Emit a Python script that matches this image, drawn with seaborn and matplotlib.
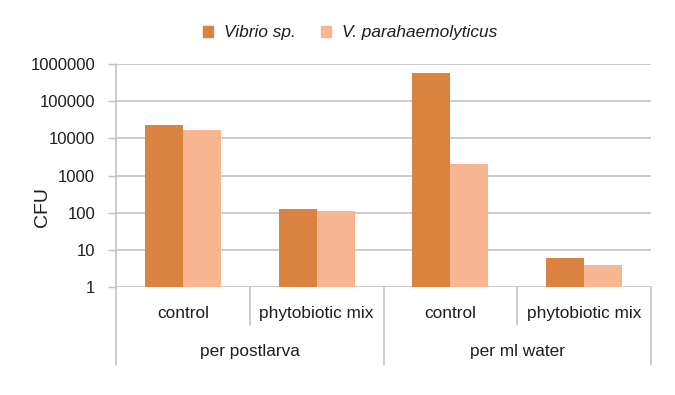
import pandas as pd
import matplotlib
matplotlib.use("Agg")
import matplotlib.pyplot as plt
import seaborn as sns

# ---------------------------------------
# Data
# ---------------------------------------
groups = ["per postlarva", "per postlarva", "per ml water", "per ml water"]
treatments = ["control", "phytobiotic mix", "control", "phytobiotic mix"]
vibrio = [23500, 125, 580000, 6]
v_para = [16500, 112, 2000, 4]
series_names = ["Vibrio sp.", "V. parahaemolyticus"]
y_ticks = [1, 10, 100, 1000, 10000, 100000, 1000000]
y_ticklabels = ["1", "10", "100", "1000", "10000", "100000", "1000000"]

colors = ["#DA823F", "#F8B592"]
grid_col = "#BFBFBF"
text_col = "#1E1E1E"

rows = []
for i in range(len(treatments)):
    key = f"{groups[i]}|{treatments[i]}"
    rows.append({"slot": key, "series": series_names[0], "CFU": vibrio[i]})
    rows.append({"slot": key, "series": series_names[1], "CFU": v_para[i]})
df = pd.DataFrame(rows)

# ---------------------------------------
# Plot
# ---------------------------------------
sns.set_style("white")
plt.rcParams["font.family"] = ["Liberation Sans", "DejaVu Sans"]

fig = plt.figure(figsize=(6.75, 3.95), dpi=100)
ax = fig.add_axes([116 / 675, 1 - 287 / 395, 535 / 675, 223 / 395])
ax.set_yscale("log")

sns.barplot(data=df, x="slot", y="CFU", hue="series", palette=colors,
            width=0.57, gap=0, saturation=1, edgecolor="none", ax=ax,
            legend=False, zorder=3)

ax.set_ylim(1, 1000000)
ax.set_xlim(-0.5, len(treatments) - 0.5)
ax.set_yticks(y_ticks)
ax.set_yticklabels(y_ticklabels)
ax.yaxis.set_minor_locator(matplotlib.ticker.NullLocator())
ax.tick_params(axis="y", length=6, width=1, color=grid_col, pad=9,
               labelsize=12, labelcolor=text_col, left=True)
ax.set_xticks([])
ax.set_xlabel("")
ax.set_ylabel("")
for s in ax.spines.values():
    s.set_visible(False)

for t in y_ticks:
    ax.axhline(t, color=grid_col, linewidth=1.1, zorder=1)

# two-level category axis
xt = ax.get_xaxis_transform()
ax.plot([-0.5, -0.5], [1.0, -0.35], transform=xt,
        color=grid_col, linewidth=1.1, clip_on=False, zorder=2)
for x in [1.5, 3.5]:
    ax.plot([x, x], [0.0, -0.35], transform=xt,
            color=grid_col, linewidth=1.1, clip_on=False, zorder=2)
for x in [0.5, 2.5]:
    ax.plot([x, x], [0.0, -0.17], transform=xt,
            color=grid_col, linewidth=1.1, clip_on=False, zorder=2)

for i, lab in enumerate(treatments):
    ax.text(i, -0.117, lab, transform=xt,
            ha="center", va="center", fontsize=12.4, color=text_col)
for g, xc in [(groups[0], 0.5), (groups[2], 2.5)]:
    ax.text(xc, -0.291, g, transform=xt,
            ha="center", va="center", fontsize=12.4, color=text_col)

fig.text(43 / 675, 1 - 207 / 395, "CFU", rotation=90, ha="center",
         va="center", fontsize=14, color=text_col)

# legend
handles = [plt.Rectangle((0, 0), 1, 1, color=c) for c in colors]
leg = fig.legend(handles, series_names, loc="center", ncol=2,
                 bbox_to_anchor=(350 / 675, 1 - 33 / 395), frameon=False,
                 handlelength=0.6, handleheight=0.6, handletextpad=0.6,
                 columnspacing=1.5, prop={"size": 12.4, "style": "italic"})
for t in leg.get_texts():
    t.set_color(text_col)

fig.savefig("out.png", dpi=100)
